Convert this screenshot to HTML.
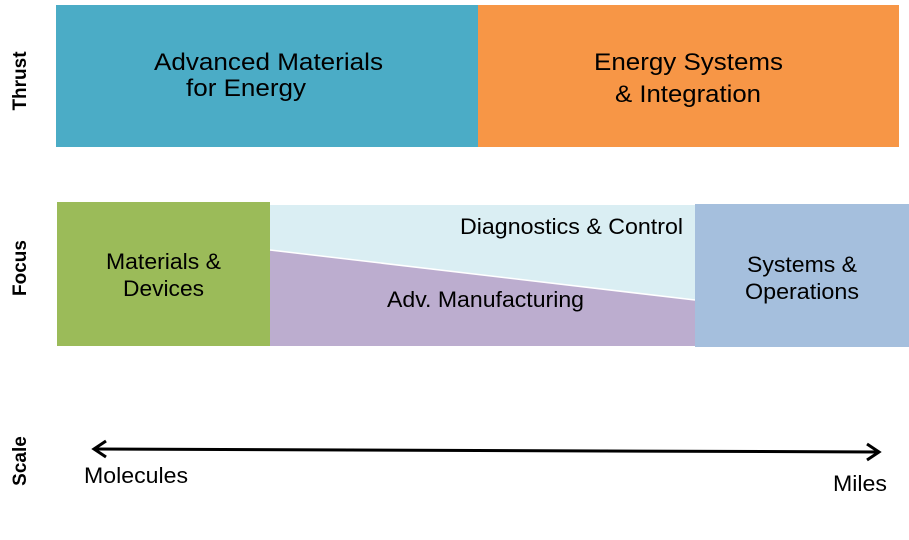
<!DOCTYPE html>
<html><head><meta charset="utf-8"><style>
html,body{margin:0;padding:0;background:#fff;width:909px;height:540px;overflow:hidden}
svg{display:block}
text{font-family:"Liberation Sans",Arial,sans-serif;fill:#000}
</style></head><body>
<svg width="909" height="540" viewBox="0 0 909 540" xmlns="http://www.w3.org/2000/svg">
<rect x="56" y="5" width="422" height="142" fill="#4BACC6"/>
<rect x="478" y="5" width="421" height="142" fill="#F79646"/>
<text x="154" y="70" font-size="24" textLength="229" lengthAdjust="spacingAndGlyphs">Advanced Materials</text>
<text x="186" y="96" font-size="24" textLength="120" lengthAdjust="spacingAndGlyphs">for Energy</text>
<text x="594" y="70" font-size="24" textLength="189" lengthAdjust="spacingAndGlyphs">Energy Systems</text>
<text x="615" y="102" font-size="24" textLength="146" lengthAdjust="spacingAndGlyphs">&amp; Integration</text>

<polygon points="270,205 695,205 695,300 270,250" fill="#DAEEF3"/>
<polygon points="270,250 695,300 695,346 270,346" fill="#BCADCF"/>
<line x1="270" y1="250" x2="695" y2="300" stroke="#fff" stroke-width="1.5"/>
<rect x="57" y="202" width="213" height="144" fill="#9BBB59"/>
<rect x="695" y="204" width="214" height="143" fill="#A5BFDD"/>
<text x="106" y="269" font-size="22" textLength="115" lengthAdjust="spacingAndGlyphs">Materials &amp;</text>
<text x="123" y="296" font-size="22" textLength="81" lengthAdjust="spacingAndGlyphs">Devices</text>
<text x="460" y="234" font-size="22" textLength="223" lengthAdjust="spacingAndGlyphs">Diagnostics &amp; Control</text>
<text x="387" y="307" font-size="22" textLength="197" lengthAdjust="spacingAndGlyphs">Adv. Manufacturing</text>
<text x="747" y="272" font-size="22" textLength="110" lengthAdjust="spacingAndGlyphs">Systems &amp;</text>
<text x="745" y="299" font-size="22" textLength="114" lengthAdjust="spacingAndGlyphs">Operations</text>

<text transform="translate(26,81) rotate(-90)" font-size="19" font-weight="bold" text-anchor="middle">Thrust</text>
<text transform="translate(26,268) rotate(-90)" font-size="19" font-weight="bold" text-anchor="middle">Focus</text>
<text transform="translate(26,461) rotate(-90)" font-size="19" font-weight="bold" text-anchor="middle">Scale</text>

<line x1="94" y1="449" x2="879" y2="452" stroke="#000" stroke-width="3"/>
<polyline points="106,441 94,449 106,457" fill="none" stroke="#000" stroke-width="3"/>
<polyline points="867,444 879,452 867,460" fill="none" stroke="#000" stroke-width="3"/>
<text x="84" y="483" font-size="22" textLength="104" lengthAdjust="spacingAndGlyphs">Molecules</text>
<text x="833" y="491" font-size="22" textLength="54" lengthAdjust="spacingAndGlyphs">Miles</text>
</svg>
</body></html>
